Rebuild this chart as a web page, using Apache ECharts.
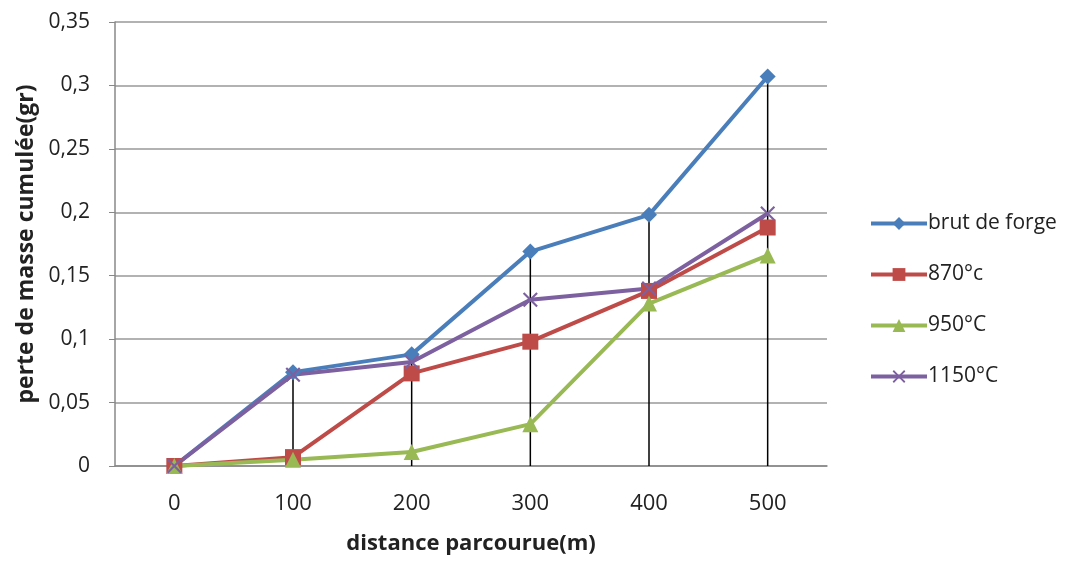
<!DOCTYPE html>
<html><head><meta charset="utf-8">
<script src="https://cdn.jsdelivr.net/npm/echarts@6/dist/echarts.min.js"></script>
<style>html,body{margin:0;padding:0;background:#fff}#c{width:1072px;height:561px}</style>
</head><body><div id="c"></div>
<script>
var categories = ['0','100','200','300','400','500'];
var brutDeForge = [0, 0.074, 0.088, 0.169, 0.198, 0.307];
var s870 = [0, 0.007, 0.073, 0.098, 0.138, 0.188];
var s950 = [0, 0.005, 0.011, 0.033, 0.128, 0.166];
var s1150 = [0, 0.072, 0.082, 0.131, 0.140, 0.199];
var seriesNames = ['brut de forge', '870°c', '950°C', '1150°C'];

var dropTops = categories.map(function(c, i){
  return Math.max(brutDeForge[i], s870[i], s950[i], s1150[i]);
});
var crossPath = 'path://M0,1L1,0L5,4L9,0L10,1L6,5L10,9L9,10L5,6L1,10L0,9L4,5Z';
var font = '"Open Sans", "Noto Sans", sans-serif';
function lineSeries(name, data, color, symbol, size){
  return {name:name, type:'line', data:data, symbol:symbol, symbolSize:size,
    lineStyle:{color:color, width:4}, itemStyle:{color:color}, z:3, animation:false};
}
var chart = echarts.init(document.getElementById('c'));
chart.setOption({
  animation:false,
  grid:{left:115, right:245, top:22, bottom:95},
  legend:{orient:'vertical', left:864, top:208, itemWidth:56, itemHeight:16, itemGap:30,
    lineStyle:{width:4},
    data:seriesNames, textStyle:{fontSize:21, color:'#222', fontFamily:font, padding:[0,0,0,-4]}},
  xAxis:{type:'category', data:categories, boundaryGap:true,
    name:'distance parcourue(m)', nameLocation:'middle', nameGap:67,
    nameTextStyle:{fontSize:22, fontWeight:'bold', color:'#222', fontFamily:font},
    axisLine:{lineStyle:{color:'#888', width:1.5}}, axisTick:{show:false},
    axisLabel:{fontSize:22, color:'#222', margin:27, fontFamily:font}},
  yAxis:{type:'value', min:0, max:0.35, interval:0.05,
    name:'perte de masse cumulée(gr)', nameLocation:'middle', nameGap:77,
    nameTextStyle:{fontSize:23, fontWeight:'bold', color:'#222', fontFamily:font},
    axisLine:{show:true, lineStyle:{color:'#888', width:1.5}},
    axisTick:{show:true, length:6, lineStyle:{color:'#888'}},
    splitLine:{lineStyle:{color:'#999', width:1.5}},
    axisLabel:{fontSize:21, color:'#222', margin:25, fontFamily:font,
      formatter:function(v){return String(+v.toFixed(2)).replace('.', ',');}}},
  series:[
    {name:'drop', type:'bar', data:dropTops, barWidth:1.5, itemStyle:{color:'#000'},
      silent:true, z:1, legendHoverLink:false},
    lineSeries(seriesNames[0], brutDeForge, '#4A7EBB', 'diamond', 16),
    lineSeries(seriesNames[1], s870, '#BE4B48', 'rect', 16),
    lineSeries(seriesNames[2], s950, '#98B954', 'triangle', 16),
    lineSeries(seriesNames[3], s1150, '#7D60A0', crossPath, 15)
  ]
});
</script></body></html>
